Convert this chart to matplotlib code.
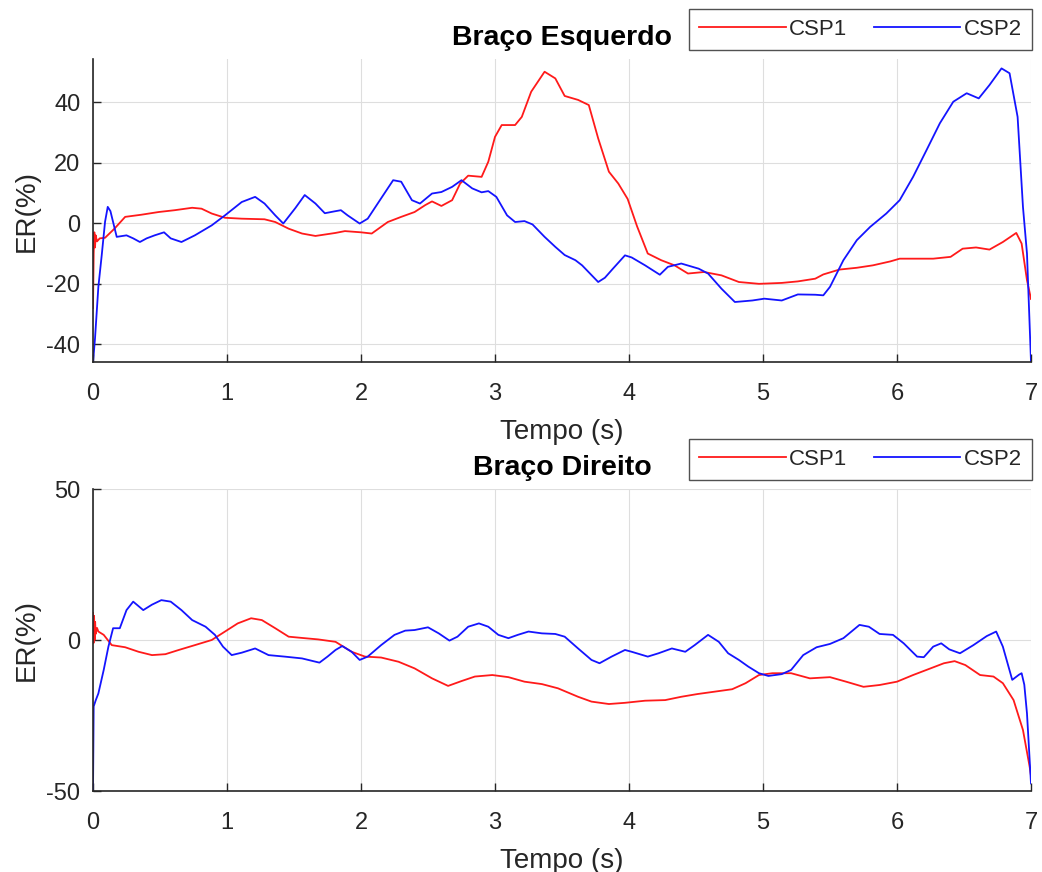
import matplotlib
matplotlib.use('Agg')
import matplotlib.pyplot as plt

plt.rcParams['font.family'] = ['Liberation Sans', 'DejaVu Sans']
plt.rcParams['axes.unicode_minus'] = False

# Braço Esquerdo - CSP1
t_esq_csp1 = [0, 0.005, 0.01, 0.015, 0.02, 0.03, 0.05, 0.09, 0.16, 0.24, 0.36, 0.49, 0.61, 0.74, 0.81,
              0.886, 0.985, 1.11, 1.28, 1.36, 1.46, 1.56, 1.66, 1.81, 1.88, 2.0, 2.08, 2.2, 2.30, 2.40,
              2.48, 2.53, 2.60, 2.68, 2.74, 2.80, 2.90, 2.95, 3.0, 3.05, 3.15, 3.20, 3.27, 3.37, 3.45,
              3.52, 3.62, 3.70, 3.77, 3.85, 3.92, 3.99, 4.06, 4.14, 4.24, 4.34, 4.44, 4.56, 4.69, 4.82,
              4.97, 5.14, 5.26, 5.39, 5.45, 5.57, 5.70, 5.82, 5.95, 6.02, 6.14, 6.27, 6.40, 6.49, 6.59,
              6.69, 6.79, 6.89, 6.93, 6.97, 7.0]
esq_csp1 = [-28, -10, -3, -8, -4, -6, -5, -4.8, -1.8, 2.1, 2.8, 3.7, 4.3, 5.1, 4.8,
            3.2, 1.8, 1.5, 1.3, 0.4, -1.8, -3.4, -4.2, -3.2, -2.6, -3, -3.4, 0.4, 2.1, 3.7,
            6, 7.2, 5.7, 7.6, 13.1, 15.7, 15.3, 20.3, 28.5, 32.4, 32.4, 35.1, 43.4, 50, 47.8,
            42, 40.7, 39, 28, 17, 13.1, 8, -1, -10, -12.2, -13.9, -16.6, -16.1, -17.2, -19.4,
            -20, -19.7, -19.2, -18.3, -16.9, -15.3, -14.7, -13.9, -12.6, -11.7, -11.7, -11.7, -11.1, -8.4, -8,
            -8.7, -6.2, -3.2, -6.7, -18.8, -25]

# Braço Esquerdo - CSP2
t_esq_csp2 = [0, 0.015, 0.04, 0.065, 0.09, 0.11, 0.13, 0.177, 0.25, 0.30, 0.35, 0.40, 0.46, 0.53, 0.58,
              0.66, 0.76, 0.886, 0.985, 1.11, 1.21, 1.28, 1.36, 1.42, 1.51, 1.58, 1.66, 1.73, 1.80, 1.85,
              1.90, 1.99, 2.05, 2.15, 2.24, 2.30, 2.38, 2.44, 2.53, 2.60, 2.68, 2.75, 2.83, 2.90, 2.95,
              3.01, 3.09, 3.15, 3.22, 3.28, 3.37, 3.45, 3.52, 3.60, 3.65, 3.77, 3.82, 3.88, 3.97, 4.02,
              4.12, 4.23, 4.29, 4.39, 4.52, 4.59, 4.69, 4.79, 4.92, 5.01, 5.14, 5.26, 5.39, 5.45, 5.50,
              5.60, 5.70, 5.80, 5.92, 6.02, 6.12, 6.22, 6.32, 6.42, 6.52, 6.61, 6.69, 6.78, 6.84, 6.90,
              6.94, 6.97, 7.0]
esq_csp2 = [-46, -38, -21, -10.6, 0.5, 5.4, 4, -4.5, -4, -5, -6.2, -5, -4, -3, -5,
            -6.2, -4, -0.7, 2.6, 7, 8.7, 6.5, 2.6, -0.1, 5, 9.3, 6.5, 3.3, 3.9, 4.3,
            2.6, -0.1, 1.5, 8.2, 14.2, 13.7, 7.6, 6.5, 9.8, 10.3, 12, 14.2, 11.5, 10.2, 10.6,
            8.7, 2.6, 0.4, 0.7, -0.4, -4.5, -7.8, -10.5, -12.2, -13.9, -19.4, -18, -15, -10.6, -11.3,
            -13.9, -17, -14.4, -13.3, -15, -16.6, -21.6, -26, -25.5, -24.9, -25.5, -23.5, -23.6, -23.8, -21,
            -12.2, -5.6, -1.2, 3.2, 7.6, 15.3, 24.1, 33, 40.1, 42.9, 41.2, 45.6, 51.1, 49.5, 35.1,
            5.4, -10, -45.7]

# Braço Direito - CSP1
t_dir_csp1 = [0, 0.004, 0.008, 0.012, 0.016, 0.02, 0.03, 0.04, 0.08, 0.14, 0.24, 0.34, 0.44, 0.54, 0.64,
              0.76, 0.886, 0.985, 1.08, 1.18, 1.26, 1.36, 1.46, 1.58, 1.68, 1.81, 1.93, 2.03, 2.15, 2.28,
              2.40, 2.53, 2.65, 2.75, 2.85, 2.98, 3.10, 3.22, 3.35, 3.47, 3.62, 3.72, 3.85, 3.97, 4.12,
              4.27, 4.39, 4.51, 4.64, 4.77, 4.87, 4.97, 5.07, 5.21, 5.35, 5.50, 5.62, 5.75, 5.87, 6.0,
              6.12, 6.25, 6.35, 6.43, 6.51, 6.62, 6.72, 6.79, 6.87, 6.94, 6.99, 7.0]
dir_csp1 = [9, -1, 8, 0, 6, 2, 4, 2.8, 1.7, -1.7, -2.4, -3.9, -5, -4.7, -3.3,
            -1.7, 0, 2.8, 5.5, 7.2, 6.6, 3.9, 1.1, 0.6, 0.2, -0.6, -3.9, -5.5, -5.8, -7.2,
            -9.4, -12.7, -15.2, -13.6, -12.1, -11.6, -12.3, -13.8, -14.6, -16, -18.8, -20.4, -21.2, -20.8, -20.1,
            -19.9, -18.8, -17.9, -17.1, -16.3, -14.3, -11.6, -11, -11, -12.7, -12.3, -13.8, -15.5, -14.9, -13.8,
            -11.6, -9.4, -7.7, -7, -8.3, -11.6, -12.1, -14.3, -19.9, -29.8, -42, -45]

# Braço Direito - CSP2
t_dir_csp2 = [0, 0.005, 0.02, 0.04, 0.08, 0.115, 0.15, 0.20, 0.25, 0.30, 0.375, 0.44, 0.51, 0.58, 0.66,
              0.74, 0.84, 0.91, 0.97, 1.035, 1.11, 1.21, 1.31, 1.43, 1.56, 1.69, 1.75, 1.81, 1.86, 1.93,
              1.99, 2.05, 2.15, 2.25, 2.33, 2.40, 2.50, 2.58, 2.66, 2.72, 2.80, 2.88, 2.95, 3.025, 3.10,
              3.17, 3.25, 3.35, 3.45, 3.52, 3.62, 3.72, 3.78, 3.87, 3.97, 4.02, 4.14, 4.22, 4.32, 4.42,
              4.49, 4.59, 4.67, 4.74, 4.82, 4.89, 4.97, 5.04, 5.14, 5.21, 5.30, 5.40, 5.50, 5.60, 5.72,
              5.79, 5.87, 5.97, 6.05, 6.15, 6.20, 6.27, 6.33, 6.39, 6.47, 6.57, 6.67, 6.74, 6.79, 6.86,
              6.91, 6.93, 6.95, 6.97, 7.0]
dir_csp2 = [-50, -22, -20, -17.7, -9.9, -2.2, 3.9, 3.9, 9.9, 12.7, 9.9, 11.7, 13.2, 12.7, 9.9,
            6.6, 4.4, 1.7, -2.2, -5, -4.2, -2.8, -5, -5.5, -6.1, -7.5, -5.5, -3.3, -2, -3.9,
            -6.6, -5.5, -1.7, 1.7, 3.1, 3.3, 4.2, 2.2, -0.2, 1.1, 4.4, 5.5, 4.4, 1.7, 0.6,
            1.7, 2.8, 2.2, 2.0, 1.1, -2.8, -6.6, -7.7, -5.5, -3.3, -3.9, -5.5, -4.4, -2.8, -3.9,
            -1.7, 1.7, -0.6, -4.4, -6.6, -8.8, -11, -11.9, -11.3, -9.9, -5, -2.4, -1.3, 0.6, 5,
            4.4, 2, 1.7, -1.1, -5.5, -5.7, -2.2, -1.1, -3.1, -4.4, -1.7, 1.3, 2.8, -2.2, -13.2,
            -11.5, -11, -14.8, -24.3, -47.5]

titles = ['Braço Esquerdo', 'Braço Direito']
series_names = ['CSP1', 'CSP2']
ylims = [(-45.8, 54.2), (-50, 50)]
yticks = [[-40, -20, 0, 20, 40], [-50, 0, 50]]
xticks = [0, 1, 2, 3, 4, 5, 6, 7]

W, H = 1042, 872
fig = plt.figure(figsize=(W / 100, H / 100), dpi=100)
ax_top = fig.add_axes([93 / W, 1 - 362 / H, (1031 - 93) / W, (362 - 59) / H])
ax_bot = fig.add_axes([93 / W, 1 - 791 / H, (1031 - 93) / W, (791 - 489) / H])

data = [
    [(t_esq_csp1, esq_csp1), (t_esq_csp2, esq_csp2)],
    [(t_dir_csp1, dir_csp1), (t_dir_csp2, dir_csp2)],
]
colors = ['#ff1a1a', '#1414ff']
dark = '#262626'

for i, ax in enumerate([ax_top, ax_bot]):
    for j, (t, v) in enumerate(data[i]):
        ax.plot(t, v, color=colors[j], linewidth=1.3, label=series_names[j])
    ax.set_xlim(0, 7)
    ax.set_ylim(*ylims[i])
    ax.set_xticks(xticks)
    ax.set_yticks(yticks[i])
    ax.grid(True, color='#dedede', linewidth=0.8)
    ax.set_axisbelow(True)
    for s in ['top', 'right']:
        ax.spines[s].set_visible(False)
    for s in ['left', 'bottom']:
        ax.spines[s].set_color(dark)
        ax.spines[s].set_linewidth(1.2)
    ax.tick_params(direction='in', length=6, width=1.0, colors=dark, labelsize=17)
    ax.tick_params(axis='x', pad=15)
    ax.tick_params(axis='y', pad=9)
    ax.set_xlabel('Tempo (s)', fontsize=20, color=dark, labelpad=10)
    ax.set_ylabel('ER(%)', fontsize=20, color=dark, labelpad=5)
    ax.set_title(titles[i], fontsize=20.5, fontweight='bold', color='black', pad=10)
    leg = ax.legend(loc='lower right', bbox_to_anchor=(1.001, 1.03), ncol=2, fontsize=16,
                    handlelength=3.9, handletextpad=0.15, columnspacing=1.2, borderpad=0.45,
                    borderaxespad=0, frameon=True, fancybox=False)
    leg.get_frame().set_edgecolor(dark)
    leg.get_frame().set_linewidth(1.0)
    for txt in leg.get_texts():
        txt.set_color(dark)

fig.savefig('out.png', dpi=100)
